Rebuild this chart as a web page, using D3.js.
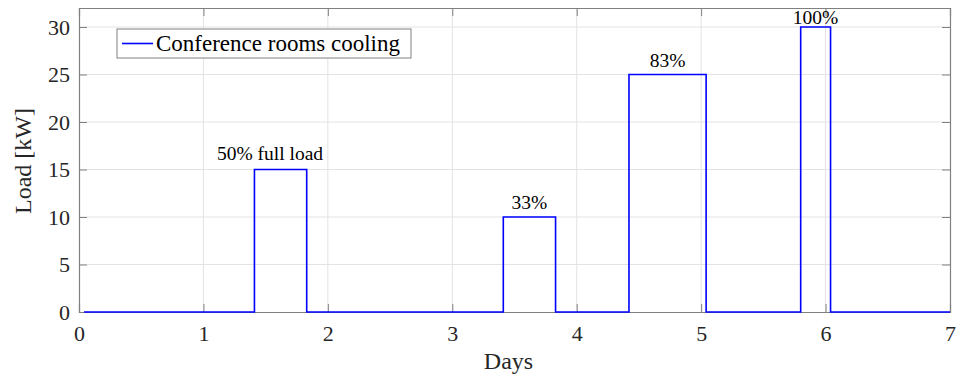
<!DOCTYPE html>
<html>
<head>
<meta charset="utf-8">
<script src="https://cdn.jsdelivr.net/npm/d3@7"></script>
<style>
  body { margin: 0; background: #fff; }
  text { font-family: "Liberation Serif", "Times New Roman", serif; fill: #262626; }
</style>
</head>
<body>
<div id="chart"></div>
<script>
// step series: time in days, load in kW (value holds until the next time)
var days = [0.04, 1.41, 1.83, 3.41, 3.83, 4.42, 5.04, 5.80, 6.04, 7];
var loads = [0, 15, 0, 10, 0, 25, 0, 30, 0, 0];
var xTicks = [0, 1, 2, 3, 4, 5, 6, 7];
var yTicks = [0, 5, 10, 15, 20, 25, 30];
// annotations above each pulse (position in days / kW)
var noteText = ['50% full load', '33%', '83%', '100%'];
var noteDay = [1.535, 3.62, 4.73, 5.92];
var noteLoad = [16.0, 10.8, 25.8, 30.3];
var seriesName = 'Conference rooms cooling';

var W = 958, H = 375;
var margin = {top: 8, right: 8, bottom: 63, left: 79};
var w = W - margin.left - margin.right;
var h = H - margin.top - margin.bottom;

var svg = d3.select('#chart').append('svg')
    .attr('width', W)
    .attr('height', H);
var g = svg.append('g')
    .attr('transform', 'translate(' + margin.left + ',' + margin.top + ')');

var x = d3.scaleLinear().domain([0, 7]).range([0, w]);
var y = d3.scaleLinear().domain([0, 32]).range([h, 0]);

// grid
g.append('g').selectAll('line')
    .data(xTicks.slice(1, -1))
    .enter().append('line')
    .attr('x1', function(d){ return x(d); })
    .attr('x2', function(d){ return x(d); })
    .attr('y1', 0).attr('y2', h)
    .style('stroke', '#e3e3e3');
g.append('g').selectAll('line')
    .data(yTicks.slice(1))
    .enter().append('line')
    .attr('y1', function(d){ return y(d); })
    .attr('y2', function(d){ return y(d); })
    .attr('x1', 0).attr('x2', w)
    .style('stroke', '#e3e3e3');

// axes, ticks pointing inward
var tickLen = 8;
var fmt = d3.format('d');
var gx = g.append('g').attr('transform', 'translate(0,' + h + ')')
    .call(d3.axisBottom(x).tickValues(xTicks).tickSize(-tickLen).tickFormat(fmt).tickPadding(13));
var gxTop = g.append('g')
    .call(d3.axisTop(x).tickValues(xTicks).tickSize(-tickLen).tickFormat(''));
var gy = g.append('g')
    .call(d3.axisLeft(y).tickValues(yTicks).tickSize(-tickLen).tickFormat(fmt).tickPadding(9));
var gyRight = g.append('g').attr('transform', 'translate(' + w + ',0)')
    .call(d3.axisRight(y).tickValues(yTicks).tickSize(-tickLen).tickFormat(''));

[gx, gxTop, gy, gyRight].forEach(function(a){
    a.selectAll('path').style('stroke', '#808080').style('stroke-width', 1.2);
    a.selectAll('line').style('stroke', '#808080');
    a.selectAll('text').style('font-family', '"Liberation Serif", serif')
        .style('font-size', '22px').style('fill', '#262626');
});

// step line
var dataset = d3.zip(days, loads);
var line = d3.line()
    .x(function(d){ return x(d[0]); })
    .y(function(d){ return y(d[1]); })
    .curve(d3.curveStepAfter);
g.append('path')
    .attr('d', line(dataset))
    .style('fill', 'none')
    .style('stroke', '#0000ff')
    .style('stroke-width', 1.6);

// notes
g.append('g').selectAll('text')
    .data(noteText)
    .enter().append('text')
    .attr('x', function(d, i){ return x(noteDay[i]); })
    .attr('y', function(d, i){ return y(noteLoad[i]); })
    .attr('text-anchor', 'middle')
    .style('font-size', '19.5px')
    .style('fill', '#000')
    .text(function(d){ return d; });

// axis labels
g.append('text')
    .attr('x', w / 2 - 6)
    .attr('y', h + 57)
    .attr('text-anchor', 'middle')
    .style('font-size', '24px')
    .text('Days');
g.append('text')
    .attr('transform', 'translate(' + (-48) + ',' + (h / 2 + 1) + ') rotate(-90)')
    .attr('text-anchor', 'middle')
    .style('font-size', '24px')
    .text('Load [kW]');

// legend
var leg = g.append('g').attr('transform', 'translate(38,21)');
leg.append('rect')
    .attr('width', 294).attr('height', 29)
    .style('fill', '#fff')
    .style('stroke', '#808080');
leg.append('line')
    .attr('x1', 5).attr('x2', 36)
    .attr('y1', 14.5).attr('y2', 14.5)
    .style('stroke', '#0000ff')
    .style('stroke-width', 1.6);
leg.append('text')
    .attr('x', 39).attr('y', 22)
    .style('font-size', '23px')
    .style('fill', '#000')
    .text(seriesName);
</script>
</body>
</html>
